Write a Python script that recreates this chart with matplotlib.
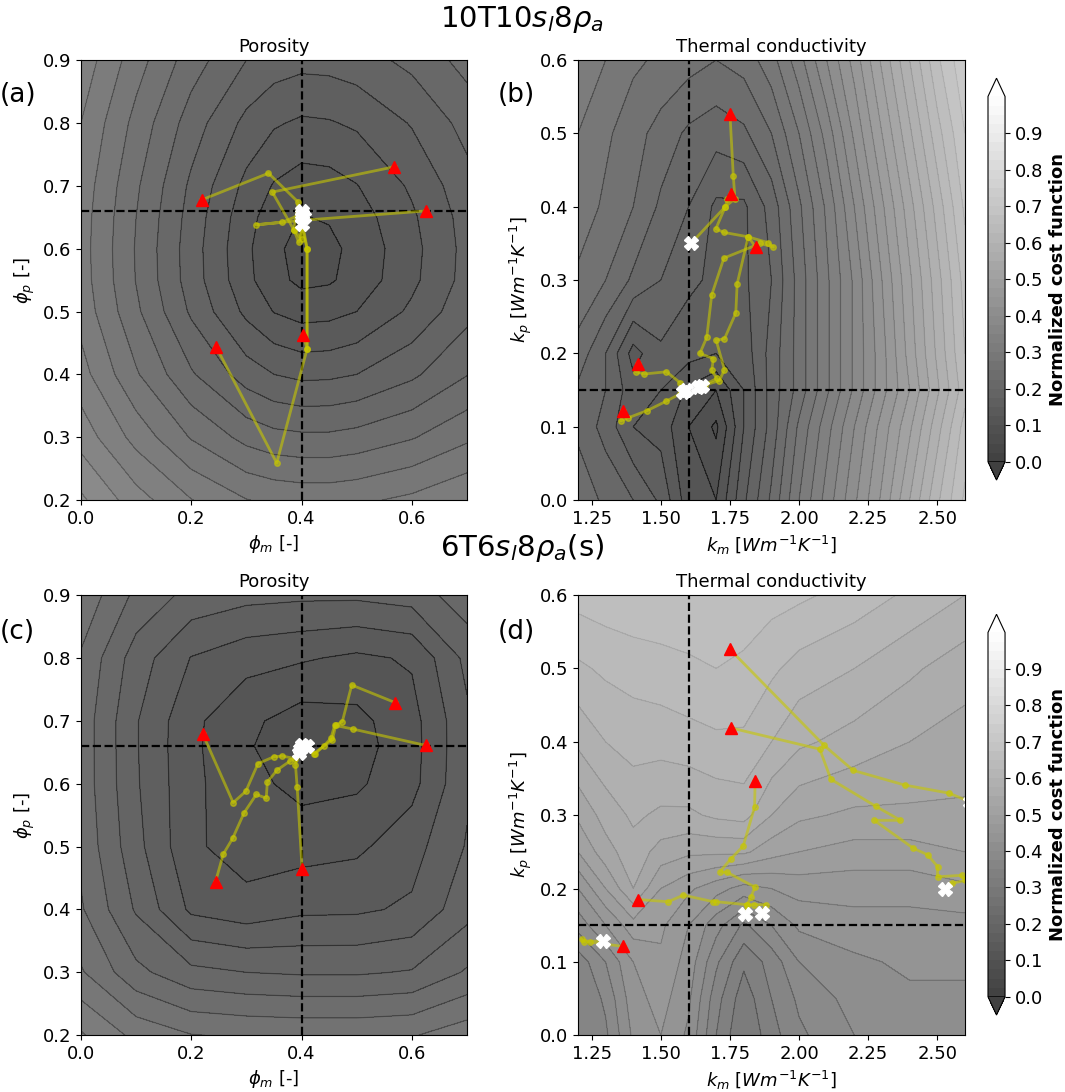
import numpy as np
import matplotlib
matplotlib.use('Agg')
import matplotlib.pyplot as plt

OUTFILE = 'out.png'

LEVELS = np.arange(0, 1.0001, 0.025)
CBAR_TICKS = np.arange(0, 0.95, 0.1)
FILL_ALPHA = 0.75
LINE_ALPHA = 0.55
TRAJ_COLOR = '#c8c800'

plt.rcParams['font.size'] = 13

# ---- cost surfaces ----
PHI_M_A = [0.0, 0.1, 0.2, 0.3, 0.35, 0.4, 0.45, 0.5, 0.6, 0.7]
PHI_P_A = [0.2, 0.3, 0.4, 0.5, 0.55, 0.6, 0.65, 0.7, 0.8, 0.9]
COST_A = [
    [0.405, 0.361, 0.326, 0.301, 0.295, 0.292, 0.292, 0.295, 0.306, 0.323],
    [0.365, 0.316, 0.273, 0.242, 0.233, 0.230, 0.230, 0.234, 0.248, 0.270],
    [0.335, 0.278, 0.228, 0.188, 0.175, 0.169, 0.170, 0.175, 0.195, 0.224],
    [0.316, 0.255, 0.196, 0.144, 0.124, 0.115, 0.117, 0.125, 0.155, 0.192],
    [0.312, 0.249, 0.188, 0.132, 0.108, 0.094, 0.097, 0.109, 0.144, 0.184],
    [0.311, 0.248, 0.187, 0.130, 0.106, 0.090, 0.094, 0.107, 0.142, 0.183],
    [0.312, 0.250, 0.190, 0.134, 0.112, 0.099, 0.102, 0.113, 0.146, 0.185],
    [0.315, 0.254, 0.195, 0.143, 0.123, 0.113, 0.115, 0.124, 0.154, 0.191],
    [0.325, 0.267, 0.213, 0.168, 0.153, 0.146, 0.148, 0.154, 0.177, 0.209],
    [0.341, 0.286, 0.237, 0.200, 0.188, 0.183, 0.184, 0.189, 0.207, 0.234],
]

PHI_M_C = [0.0, 0.1, 0.2, 0.3, 0.4, 0.5, 0.6, 0.7]
PHI_P_C = [0.2, 0.3, 0.4, 0.5, 0.6, 0.66, 0.7, 0.8, 0.9]
COST_C = [
    [0.328, 0.293, 0.276, 0.272, 0.270, 0.270, 0.273, 0.290],
    [0.278, 0.232, 0.207, 0.200, 0.197, 0.197, 0.202, 0.228],
    [0.253, 0.197, 0.145, 0.135, 0.145, 0.146, 0.154, 0.191],
    [0.244, 0.183, 0.130, 0.112, 0.115, 0.120, 0.140, 0.177],
    [0.240, 0.178, 0.131, 0.108, 0.092, 0.096, 0.117, 0.171],
    [0.240, 0.177, 0.130, 0.105, 0.070, 0.090, 0.115, 0.170],
    [0.240, 0.177, 0.131, 0.106, 0.088, 0.093, 0.116, 0.170],
    [0.247, 0.188, 0.149, 0.134, 0.128, 0.120, 0.128, 0.182],
    [0.269, 0.219, 0.192, 0.183, 0.180, 0.180, 0.186, 0.215],
]

K_M_B = [1.2, 1.3, 1.4, 1.5, 1.6, 1.7, 1.8, 1.9, 2.0, 2.1, 2.2, 2.3, 2.4, 2.5, 2.6]
K_P_B = [0.0, 0.1, 0.15, 0.2, 0.3, 0.4, 0.5, 0.6]
COST_B = [
    [0.24, 0.22, 0.20, 0.17, 0.11, 0.10, 0.17, 0.23, 0.30, 0.36, 0.42, 0.48, 0.55, 0.62, 0.68],
    [0.22, 0.19, 0.15, 0.14, 0.10, 0.07, 0.15, 0.21, 0.28, 0.34, 0.40, 0.46, 0.52, 0.59, 0.66],
    [0.22, 0.20, 0.16, 0.15, 0.12, 0.10, 0.15, 0.21, 0.26, 0.32, 0.38, 0.44, 0.50, 0.57, 0.64],
    [0.24, 0.20, 0.14, 0.17, 0.16, 0.15, 0.16, 0.21, 0.26, 0.32, 0.38, 0.44, 0.51, 0.58, 0.65],
    [0.27, 0.25, 0.22, 0.20, 0.18, 0.17, 0.17, 0.20, 0.26, 0.32, 0.38, 0.45, 0.52, 0.59, 0.66],
    [0.29, 0.27, 0.25, 0.22, 0.20, 0.17, 0.17, 0.21, 0.27, 0.33, 0.40, 0.47, 0.54, 0.61, 0.68],
    [0.30, 0.28, 0.26, 0.24, 0.22, 0.21, 0.22, 0.25, 0.30, 0.36, 0.43, 0.50, 0.57, 0.64, 0.70],
    [0.31, 0.30, 0.28, 0.27, 0.26, 0.25, 0.26, 0.29, 0.34, 0.40, 0.46, 0.53, 0.60, 0.67, 0.72],
]

K_M_D = [1.2, 1.3, 1.4, 1.5, 1.6, 1.7, 1.8, 1.9, 2.0, 2.2, 2.4, 2.6]
K_P_D = [0.0, 0.05, 0.1, 0.15, 0.2, 0.25, 0.3, 0.4, 0.5, 0.6]
COST_D = [
    [0.35, 0.37, 0.43, 0.45, 0.42, 0.35, 0.30, 0.34, 0.37, 0.40, 0.41, 0.41],
    [0.35, 0.38, 0.44, 0.46, 0.43, 0.36, 0.31, 0.35, 0.38, 0.41, 0.42, 0.42],
    [0.36, 0.40, 0.45, 0.47, 0.44, 0.38, 0.33, 0.36, 0.40, 0.42, 0.43, 0.43],
    [0.41, 0.45, 0.49, 0.48, 0.45, 0.41, 0.37, 0.40, 0.43, 0.44, 0.44, 0.44],
    [0.45, 0.50, 0.55, 0.50, 0.48, 0.46, 0.44, 0.45, 0.46, 0.46, 0.46, 0.47],
    [0.50, 0.54, 0.565, 0.54, 0.53, 0.53, 0.53, 0.51, 0.50, 0.49, 0.49, 0.50],
    [0.53, 0.56, 0.58, 0.57, 0.57, 0.58, 0.585, 0.55, 0.53, 0.52, 0.52, 0.52],
    [0.58, 0.60, 0.61, 0.61, 0.615, 0.62, 0.62, 0.60, 0.58, 0.565, 0.55, 0.54],
    [0.62, 0.63, 0.635, 0.64, 0.645, 0.65, 0.645, 0.63, 0.615, 0.60, 0.58, 0.56],
    [0.66, 0.665, 0.67, 0.67, 0.67, 0.67, 0.665, 0.66, 0.655, 0.64, 0.62, 0.60],
]

# ---- optimiser paths: (x, y) lists, first point = start, last point = result ----
PATHS_A = [
    [(0.22, 0.678), (0.34, 0.72), (0.394, 0.674), (0.386, 0.63), (0.40, 0.615), (0.40, 0.66)],
    [(0.567, 0.73), (0.347, 0.69), (0.386, 0.63), (0.395, 0.61), (0.405, 0.65)],
    [(0.625, 0.66), (0.40, 0.645), (0.318, 0.638), (0.365, 0.642), (0.40, 0.655)],
    [(0.403, 0.463), (0.41, 0.44), (0.41, 0.60), (0.40, 0.64)],
    [(0.245, 0.444), (0.355, 0.259), (0.41, 0.44), (0.41, 0.60), (0.40, 0.65)],
]
PATHS_B = [
    [(1.75, 0.526), (1.762, 0.442), (1.768, 0.411), (1.733, 0.40), (1.699, 0.37), (1.728, 0.365),
     (1.816, 0.359), (1.888, 0.351), (1.907, 0.345), (1.86, 0.35), (1.728, 0.33), (1.684, 0.28),
     (1.666, 0.222), (1.641, 0.20), (1.69, 0.193), (1.684, 0.177), (1.702, 0.166), (1.647, 0.155)],
    [(1.753, 0.418), (1.74, 0.41), (1.733, 0.40), (1.609, 0.35)],
    [(1.843, 0.345), (1.816, 0.359), (1.776, 0.295), (1.771, 0.255), (1.73, 0.22), (1.70, 0.218),
     (1.73, 0.178), (1.712, 0.163), (1.66, 0.157), (1.633, 0.154)],
    [(1.418, 0.185), (1.41, 0.175), (1.44, 0.172), (1.52, 0.175), (1.57, 0.16), (1.579, 0.148)],
    [(1.364, 0.121), (1.355, 0.108), (1.38, 0.112), (1.45, 0.122), (1.52, 0.135), (1.57, 0.145),
     (1.59, 0.15)],
]
PATHS_C = [
    [(0.221, 0.679), (0.276, 0.570), (0.299, 0.588), (0.321, 0.632), (0.350, 0.643), (0.365, 0.644),
     (0.389, 0.640), (0.398, 0.656)],
    [(0.244, 0.444), (0.258, 0.488), (0.275, 0.513), (0.296, 0.554), (0.318, 0.583), (0.336, 0.577),
     (0.338, 0.603), (0.356, 0.622), (0.379, 0.636), (0.395, 0.649)],
    [(0.401, 0.464), (0.392, 0.595), (0.389, 0.630), (0.392, 0.645), (0.403, 0.660)],
    [(0.570, 0.729), (0.491, 0.757), (0.474, 0.699), (0.462, 0.693), (0.456, 0.670), (0.422, 0.648),
     (0.410, 0.660)],
    [(0.625, 0.661), (0.493, 0.687), (0.460, 0.693), (0.453, 0.672), (0.440, 0.660), (0.424, 0.647),
     (0.400, 0.662)],
]
PATHS_D = [
    [(1.75, 0.526), (2.091, 0.395), (2.196, 0.361), (2.383, 0.341), (2.543, 0.330), (2.62, 0.318)],
    [(1.753, 0.419), (2.075, 0.390), (2.115, 0.349), (2.278, 0.312), (2.367, 0.293), (2.272, 0.293),
     (2.413, 0.255), (2.465, 0.246), (2.501, 0.230), (2.501, 0.216), (2.588, 0.218), (2.60, 0.211),
     (2.552, 0.207), (2.528, 0.199)],
    [(1.841, 0.346), (1.839, 0.311), (1.798, 0.258), (1.752, 0.240), (1.714, 0.223), (1.74, 0.222),
     (1.840, 0.202), (1.826, 0.188), (1.81, 0.177), (1.805, 0.165)],
    [(1.418, 0.185), (1.527, 0.182), (1.581, 0.191), (1.69, 0.182), (1.70, 0.182), (1.81, 0.178),
     (1.836, 0.178), (1.88, 0.178), (1.865, 0.167)],
    [(1.364, 0.121), (1.243, 0.127), (1.213, 0.131), (1.22, 0.127), (1.289, 0.129)],
]

TRUE_POROSITY = (0.4, 0.66)
TRUE_CONDUCTIVITY = (1.6, 0.15)

fig = plt.figure(figsize=(10.65, 10.92), dpi=100)

ax_pos = {
    'a': [0.076, 0.542, 0.3625, 0.403],
    'b': [0.5427, 0.542, 0.3633, 0.403],
    'c': [0.076, 0.052, 0.3625, 0.403],
    'd': [0.5427, 0.052, 0.3633, 0.403],
}
cax_pos = [[0.9277, 0.5604, 0.016, 0.368], [0.9277, 0.0705, 0.016, 0.367]]

panels = [
    ('a', PHI_M_A, PHI_P_A, COST_A, PATHS_A, TRUE_POROSITY, 'Porosity'),
    ('b', K_M_B, K_P_B, COST_B, PATHS_B, TRUE_CONDUCTIVITY, 'Thermal conductivity'),
    ('c', PHI_M_C, PHI_P_C, COST_C, PATHS_C, TRUE_POROSITY, 'Porosity'),
    ('d', K_M_D, K_P_D, COST_D, PATHS_D, TRUE_CONDUCTIVITY, 'Thermal conductivity'),
]

for i, (tag, xs, ys, cost, paths, truth, title) in enumerate(panels):
    ax = fig.add_axes(ax_pos[tag])
    cf = ax.contourf(xs, ys, cost, levels=LEVELS, cmap='gray', alpha=FILL_ALPHA, extend='both')
    ax.contour(xs, ys, cost, levels=LEVELS, cmap='gray', alpha=LINE_ALPHA, linewidths=0.9)
    ax.axvline(truth[0], color='k', ls='--', lw=1.6)
    ax.axhline(truth[1], color='k', ls='--', lw=1.6)
    for p in paths:
        px = [q[0] for q in p]
        py = [q[1] for q in p]
        ax.plot(px, py, '-o', color=TRAJ_COLOR, alpha=0.6, lw=2, ms=4)
    for p in paths:
        ax.plot(p[0][0], p[0][1], '^', color='red', ms=9)
        ax.plot(p[-1][0], p[-1][1], 'X', color='white', ms=10)
    ax.set_title(title, fontsize=13)
    if title == 'Porosity':
        ax.set_xlim(0, 0.7)
        ax.set_ylim(0.2, 0.9)
        ax.set_xticks([0.0, 0.2, 0.4, 0.6])
        ax.set_xlabel('$\\phi_m$ [-]')
        ax.set_ylabel('$\\phi_p$ [-]')
    else:
        ax.set_xlim(1.2, 2.6)
        ax.set_ylim(0, 0.6)
        ax.set_xticks([1.25, 1.5, 1.75, 2.0, 2.25, 2.5])
        ax.set_xlabel('$k_m$ $[Wm^{-1}K^{-1}]$')
        ax.set_ylabel('$k_p$ $[Wm^{-1}K^{-1}]$')
        cax = fig.add_axes(cax_pos[i // 2])
        cb = fig.colorbar(cf, cax=cax, ticks=CBAR_TICKS)
        cb.set_label('Normalized cost function', fontsize=13, fontweight='bold')

fig.text(0.0, 0.913, '(a)', fontsize=19, va='center')
fig.text(0.467, 0.913, '(b)', fontsize=19, va='center')
fig.text(0.0, 0.421, '(c)', fontsize=19, va='center')
fig.text(0.467, 0.421, '(d)', fontsize=19, va='center')

fig.text(0.49, 0.982, '10T10$s_l$8$\\rho_a$', fontsize=21, ha='center', va='center')
fig.text(0.49, 0.498, '6T6$s_l$8$\\rho_a$(s)', fontsize=21, ha='center', va='center')

fig.savefig(OUTFILE, dpi=100)
